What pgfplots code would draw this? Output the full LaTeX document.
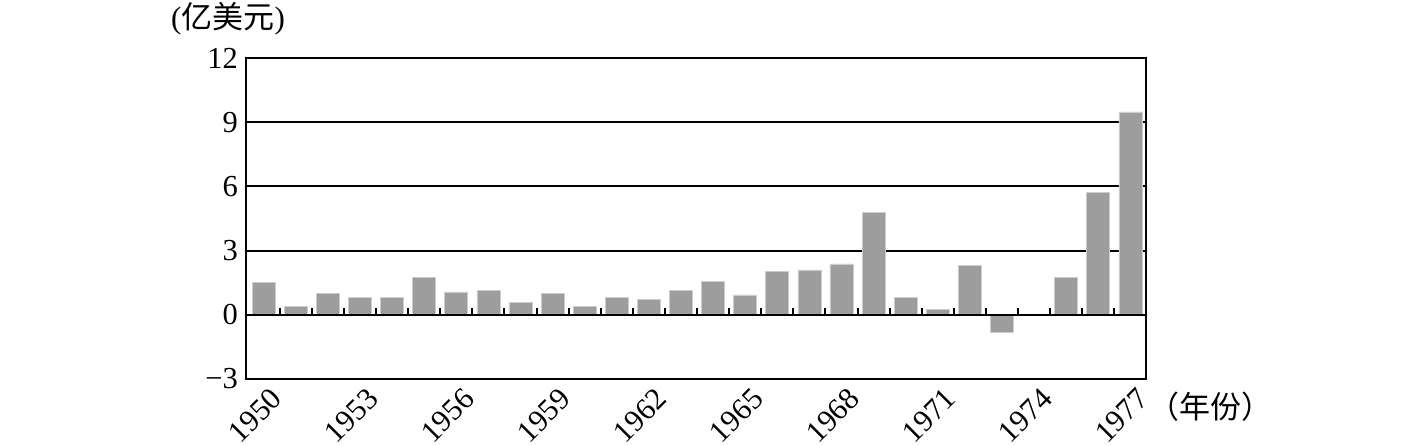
\documentclass[border=0pt]{standalone}
\usepackage{fontspec}
\setmainfont{Liberation Serif}
\newfontfamily\cjk{Noto Sans CJK SC}
\usepackage{pgfplots}
\pgfplotsset{compat=1.18}
\definecolor{barfill}{RGB}{157,157,157}
\definecolor{baredge}{RGB}{205,205,205}
\begin{document}
\begin{tikzpicture}
\useasboundingbox (0,0) rectangle (1418pt,446pt);
\begin{axis}[
  at={(246pt,67pt)}, anchor=south west,
  x=32.1pt, y=21.4pt,
  xmin=-0.55, xmax=27.49,
  ymin=-3, ymax=12,
  axis line style={line width=2pt, black},
  ytick={-3,0,3,6,9,12},
  yticklabels={−3,0,3,6,9,12},
  xtick={0,3,...,27},
  xticklabels={1950,1953,1956,1959,1962,1965,1968,1971,1974,1977},
  major tick length=0pt,
  ymajorgrids,
  major grid style={line width=2pt, black},
  tick label style={font=\fontsize{30.5}{36}\selectfont},
  yticklabel style={inner sep=0pt, xshift=-8pt, anchor=east},
  xticklabel style={inner sep=0pt, xshift=13pt, yshift=-15pt, rotate=45, anchor=east},
  ybar, bar width=23pt,
  clip=false,
]
% x = year - 1950
\addplot[ybar, bar shift=0pt, fill=barfill, draw=baredge, line width=0.6pt] coordinates {
(0,1.5) (1,0.39) (2,1.0) (3,0.8) (4,0.8) (5,1.76)
(6,1.07) (7,1.15) (8,0.59) (9,1.0) (10,0.39) (11,0.8)
(12,0.73) (13,1.15) (14,1.57) (15,0.93) (16,2.04) (17,2.1)
(18,2.38) (19,4.77) (20,0.8) (21,0.25) (22,2.32) (23,-0.82)
(25,1.76) (26,5.72) (27,9.48)
};
\draw[line width=2pt, black] (axis cs:-0.55,0) -- (axis cs:27.49,0);
\pgfplotsinvokeforeach{0,...,26}{
  \draw[line width=2pt, black] (axis cs:#1.5,0) -- ([yshift=7pt]axis cs:#1.5,0);
}
\end{axis}
\node[font=\fontsize{31}{36}\selectfont, inner sep=0pt] at (228pt,427pt) {({\cjk 亿美元})};
\node[font=\fontsize{31}{36}\selectfont, inner sep=0pt] at (1210pt,39pt) {{\cjk （年份）}};
\end{tikzpicture}
\end{document}
